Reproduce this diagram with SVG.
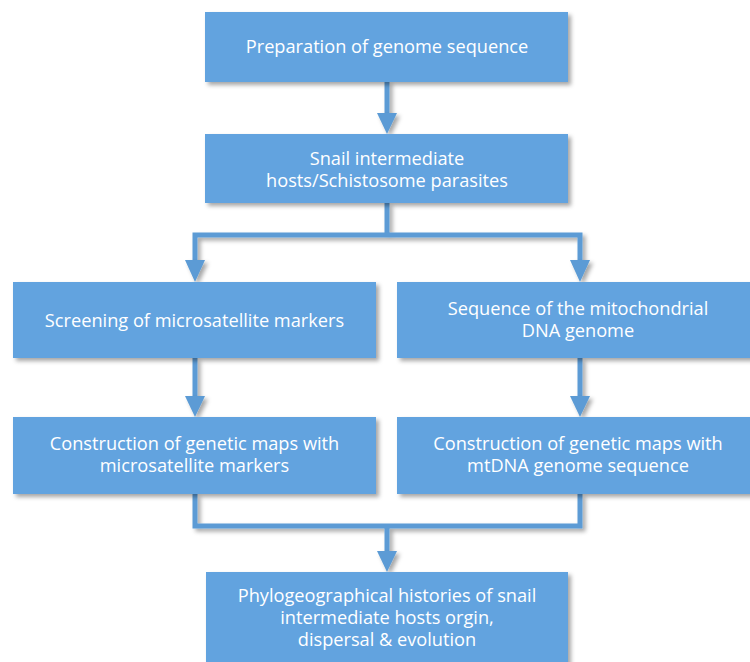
<svg xmlns="http://www.w3.org/2000/svg" width="750" height="662" viewBox="0 0 750 662">
<defs>
<filter id="sh" filterUnits="userSpaceOnUse" x="0" y="0" width="770" height="680">
<feDropShadow dx="3" dy="3" stdDeviation="2" flood-color="#000" flood-opacity="0.35"/>
</filter>
</defs>
<style>
.box{fill:#62A3DF;filter:url(#sh)}
.t{font-family:"Open Sans","Noto Sans","DejaVu Sans",sans-serif;font-size:18.2px;fill:#fff;text-anchor:middle;dominant-baseline:central}
.c{fill:none;stroke:#5B9BD5;stroke-width:5;filter:url(#sh)}
.h{fill:#5B9BD5;filter:url(#sh)}
</style>
<rect width="750" height="662" fill="#fff"/>
<g id="connectors">
<path class="c" d="M387,81 V115"/>
<path class="h" d="M377,113 H397 L387,134 Z"/>
<path class="c" d="M387,203 V235 M195,235 H580 M195,232.5 V262 M580,232.5 V262"/>
<path class="h" d="M185,260 H205 L195,282 Z"/>
<path class="h" d="M570,260 H590 L580,282 Z"/>
<path class="c" d="M195,358 V398"/>
<path class="h" d="M185,396 H205 L195,417 Z"/>
<path class="c" d="M580,358 V398"/>
<path class="h" d="M570,396 H590 L580,417 Z"/>
<path class="c" d="M195,494 V526 H580 V494 M387,526 V552"/>
<path class="h" d="M377,551 H397 L387,572 Z"/>
</g>
<g id="n1"><rect class="box" x="205" y="12" width="363" height="70"/><text class="t" x="387" y="46">Preparation of genome sequence</text></g>
<g id="n2"><rect class="box" x="205" y="134" width="363" height="69"/><text class="t" x="387" y="158">Snail intermediate</text><text class="t" x="387" y="180">hosts/Schistosome parasites</text></g>
<g id="n3"><rect class="box" x="13" y="282" width="363" height="76"/><text class="t" x="194.5" y="320">Screening of microsatellite markers</text></g>
<g id="n4"><rect class="box" x="397" y="282" width="363" height="76"/><text class="t" x="578" y="308">Sequence of the mitochondrial</text><text class="t" x="578" y="330">DNA genome</text></g>
<g id="n5"><rect class="box" x="13" y="417" width="363" height="77"/><text class="t" x="194.5" y="443">Construction of genetic maps with</text><text class="t" x="194.5" y="465">microsatellite markers</text></g>
<g id="n6"><rect class="box" x="397" y="417" width="363" height="77"/><text class="t" x="578" y="443">Construction of genetic maps with</text><text class="t" x="578" y="465">mtDNA genome sequence</text></g>
<g id="n7"><rect class="box" x="206" y="572" width="362" height="95"/><text class="t" x="387" y="595">Phylogeographical histories of snail</text><text class="t" x="387" y="617">intermediate hosts orgin,</text><text class="t" x="387" y="639">dispersal &amp; evolution</text></g>
</svg>
